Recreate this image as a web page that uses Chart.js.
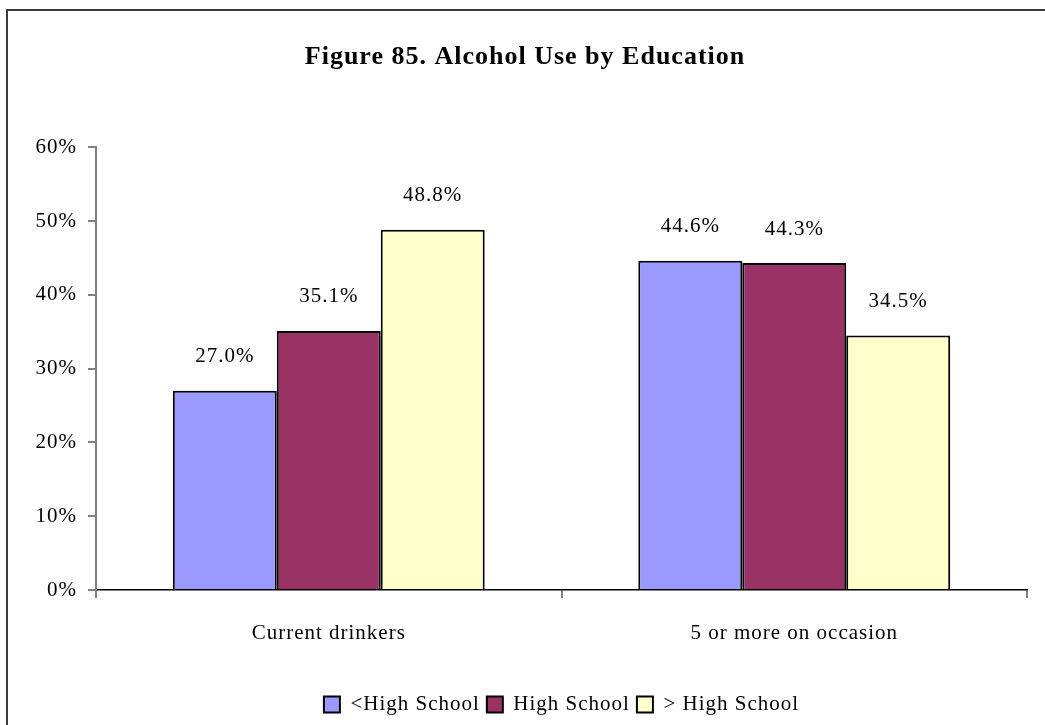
<!DOCTYPE html>
<html>
<head>
<meta charset="utf-8">
<title>Alcohol Use by Education</title>
<script src="https://cdn.jsdelivr.net/npm/chart.js@4.4.1/dist/chart.umd.min.js"></script>
<style>
  html, body { margin: 0; padding: 0; background: #fff; overflow: hidden; }
  #wrap { position: relative; width: 1045px; height: 725px; overflow: hidden; }
  #frame { position: absolute; left: 6px; top: 9px; width: 1100px; height: 800px; border: 2px solid #3a3a3a; }
  #chart { position: absolute; left: 0; top: 0; }
</style>
</head>
<body>
<div id="wrap">
  <div id="frame"></div>
  <canvas id="chart" width="1045" height="725"></canvas>
</div>
<script>
const categories = ["Current drinkers", "5 or more on occasion"];
const seriesNames = ["<High School", "High School", "> High School"];
const belowHighSchool = [27.0, 44.6];
const highSchool = [35.1, 44.3];
const aboveHighSchool = [48.8, 34.5];
const yTickMin = 0, yTickMax = 60, yTickStep = 10;

const seriesColors = ["#9999FF", "#993366", "#FFFFCC"];
const serif = "'Liberation Serif', 'Times New Roman', serif";

// value above each bar
const barLabels = {
    id: "barLabels",
    afterDatasetsDraw(chart) {
        const ctx = chart.ctx;
        ctx.save();
        ctx.font = "21px " + serif;
        ctx.fillStyle = "#000";
        ctx.textAlign = "center";
        ctx.textBaseline = "middle";
        chart.data.datasets.forEach((ds, i) => {
            chart.getDatasetMeta(i).data.forEach((bar, j) => {
                ctx.fillText(ds.data[j].toFixed(1) + "%", bar.x, bar.y - 34);
            });
        });
        ctx.restore();
    }
};

// wider text spacing + legend centred under the plot area
const textTweaks = {
    id: "textTweaks",
    beforeLayout(chart) { chart.ctx.letterSpacing = "1px"; },
    beforeDraw(chart) { chart.ctx.letterSpacing = "1px"; },
    afterLayout(chart) {
        const lg = chart.legend, area = chart.chartArea;
        lg.left = area.left;
        lg.right = area.right;
        lg.width = area.right - area.left;
    }
};

new Chart(document.getElementById("chart"), {
    type: "bar",
    data: {
        labels: categories,
        datasets: [
            { label: seriesNames[0], data: belowHighSchool, backgroundColor: seriesColors[0] },
            { label: seriesNames[1], data: highSchool, backgroundColor: seriesColors[1] },
            { label: seriesNames[2], data: aboveHighSchool, backgroundColor: seriesColors[2] }
        ].map(d => Object.assign(d, {
            borderColor: "#000",
            borderWidth: 2,
            categoryPercentage: 0.67,
            barPercentage: 1.0
        }))
    },
    options: {
        responsive: false,
        animation: false,
        layout: { padding: { left: 23, right: 18, top: 0, bottom: 0 } },
        plugins: {
            title: {
                display: true,
                text: "Figure 85. Alcohol Use by Education",
                color: "#000",
                font: { family: serif, size: 26, weight: "bold" },
                padding: { top: 42, bottom: 74 }
            },
            legend: {
                position: "bottom",
                labels: {
                    color: "#000",
                    font: { family: serif, size: 21 },
                    boxWidth: 16,
                    boxHeight: 16,
                    padding: 7
                }
            },
            tooltip: { enabled: false }
        },
        scales: {
            x: {
                grid: { offset: true, drawOnChartArea: false, tickLength: 8, color: "#808080", lineWidth: 2 },
                border: { color: "#000", width: 1.5 },
                ticks: { color: "#000", font: { family: serif, size: 21 }, padding: 23, maxRotation: 0 },
                afterFit(s) { s.height = 97; }
            },
            y: {
                min: yTickMin,
                max: yTickMax,
                grid: { drawOnChartArea: false, tickLength: 8, color: "#808080", lineWidth: 2 },
                border: { color: "#808080", width: 2 },
                ticks: {
                    stepSize: yTickStep,
                    color: "#000",
                    font: { family: serif, size: 21 },
                    padding: 11,
                    callback: v => v + "%"
                },
                afterFit(s) { s.width = 73; }
            }
        }
    },
    plugins: [barLabels, textTweaks]
});
</script>
</body>
</html>
